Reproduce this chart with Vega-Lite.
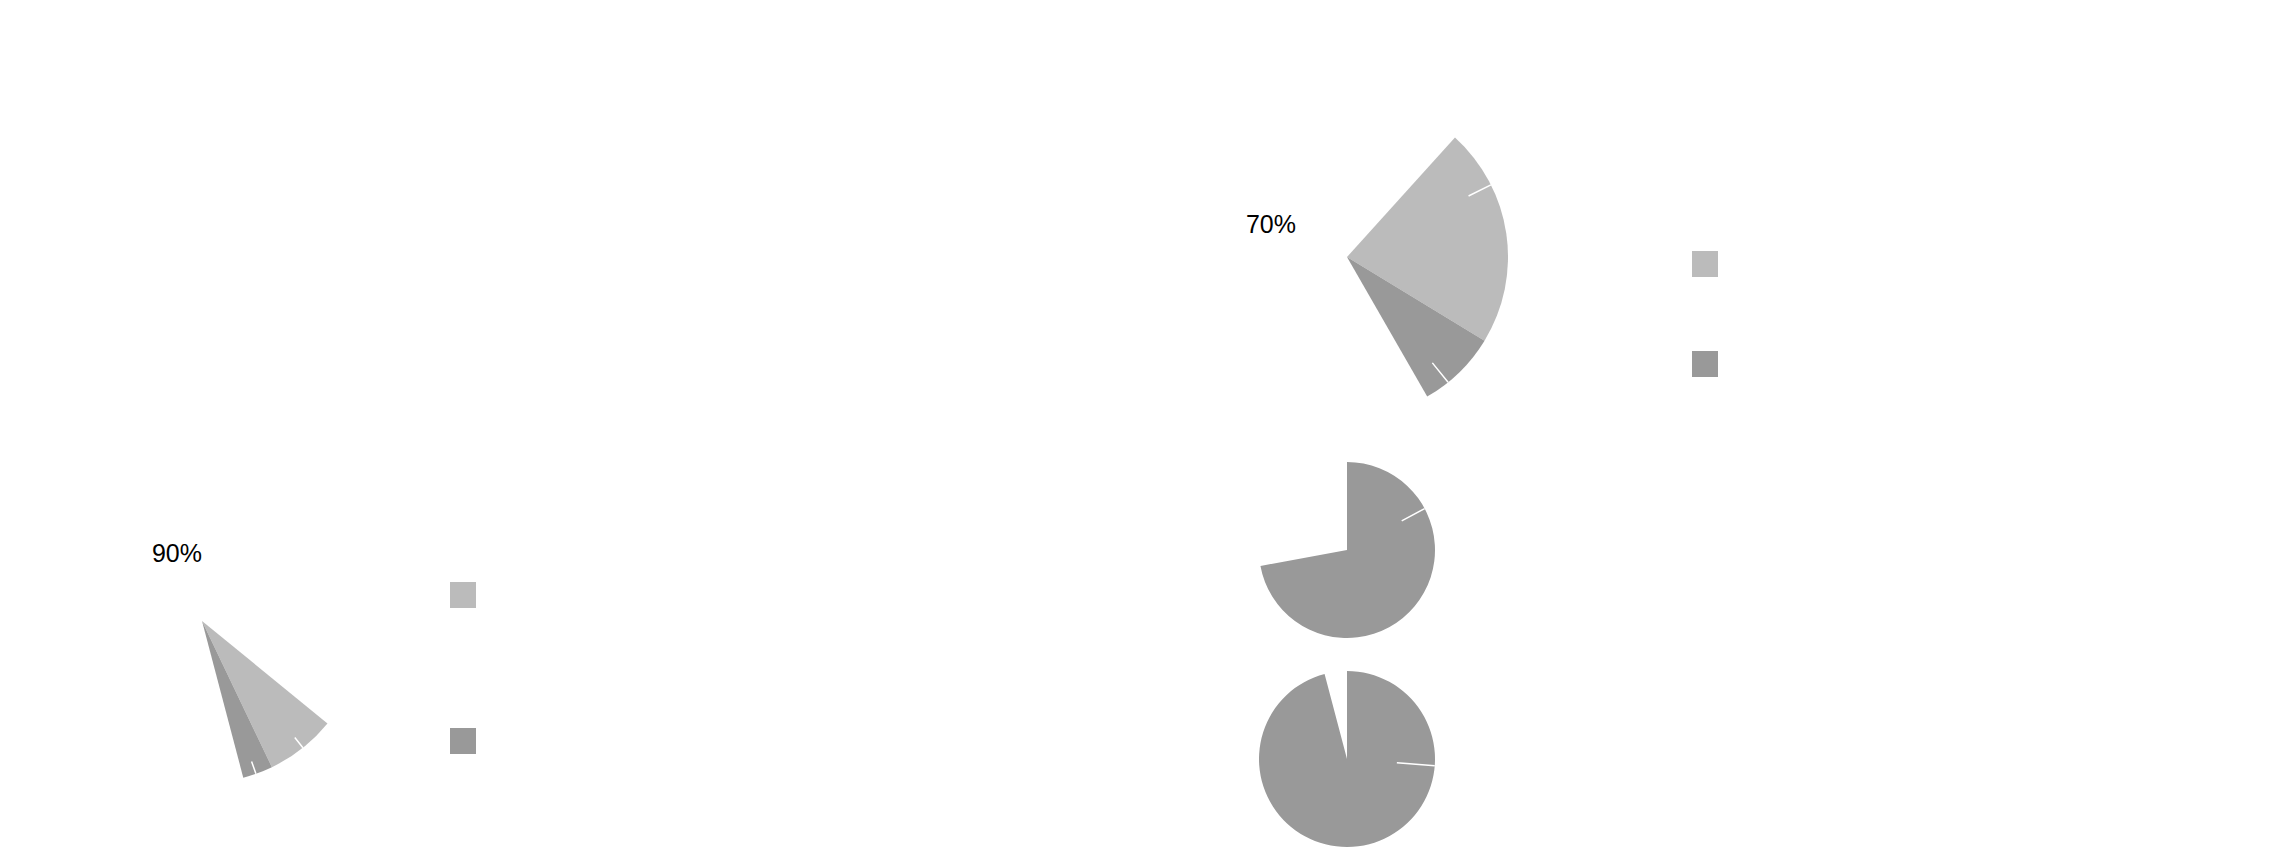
{
  "$schema": "https://vega.github.io/schema/vega-lite/v6.json",
  "padding": 0,
  "background": "white",
  "columns": 2,
  "spacing": {"row": 0, "column": 892},
  "align": "each",
  "bounds": "flush",
  "concat": [
    {"width": 404, "height": 243, "data": {"values": []}, "mark": "point"},
    {"width": 102, "height": 1, "data": {"values": []}, "mark": "point"},
    {"width": 1, "height": 286, "data": {"values": []}, "mark": "point"},
    {
      "width": 102, "height": 28,
      "title": {"text": "70%", "anchor": "start", "align": "right", "frame": "group", "offset": -100},
      "layer": [
        {
          "data": {"values": [
            {"part": "Segment 1", "from": 11.7, "to": 33.7},
            {"part": "Segment 2", "from": 33.7, "to": 41.7}
          ]},
          "mark": {"type": "arc", "outerRadius": 161},
          "encoding": {
            "theta": {"field": "from", "type": "quantitative", "stack": null, "scale": {"domain": [0, 100]}},
            "theta2": {"field": "to"},
            "color": {
              "field": "part", "type": "nominal",
              "scale": {"domain": ["Segment 1", "Segment 2"], "range": ["#bbbbbb", "#999999"]},
              "legend": {"orient": "none", "legendX": 396, "legendY": 8, "title": null, "padding": 0,
                "symbolType": "square", "symbolSize": 676, "symbolStrokeWidth": 0, "symbolOpacity": 1,
                "labelExpr": "''", "rowPadding": 74}
            }
          }
        },
        {
          "data": {"values": [{"at": 17.6}, {"at": 39.2}]},
          "mark": {"type": "arc", "outerRadius": 161, "innerRadius": 136, "fill": null, "stroke": "white", "strokeWidth": 1.5},
          "encoding": {
            "theta": {"field": "at", "type": "quantitative", "stack": null, "scale": {"domain": [0, 100]}},
            "theta2": {"field": "at"}
          }
        }
      ]
    },
    {"width": 1, "height": 1, "data": {"values": []}, "mark": "point"},
    {
      "width": 102, "height": 42,
      "layer": [
        {
          "data": {"values": [{"value": 72.1}]},
          "mark": {"type": "arc", "outerRadius": 88, "color": "#999999"},
          "encoding": {"theta": {"field": "value", "type": "quantitative", "scale": {"domain": [0, 100]}}}
        },
        {
          "data": {"values": [{"at": 17.2}]},
          "mark": {"type": "arc", "outerRadius": 88, "innerRadius": 62, "fill": null, "stroke": "white", "strokeWidth": 1.5},
          "encoding": {
            "theta": {"field": "at", "type": "quantitative", "stack": null, "scale": {"domain": [0, 100]}},
            "theta2": {"field": "at"}
          }
        }
      ]
    },
    {
      "width": 404, "height": 100,
      "title": {"text": "90%", "anchor": "middle", "align": "right", "frame": "group"},
      "layer": [
        {
          "data": {"values": [
            {"part": "Segment 1", "from": 35.9, "to": 42.9},
            {"part": "Segment 2", "from": 42.9, "to": 45.9}
          ]},
          "mark": {"type": "arc", "outerRadius": 162},
          "encoding": {
            "theta": {"field": "from", "type": "quantitative", "stack": null, "scale": {"domain": [0, 100]}},
            "theta2": {"field": "to"},
            "color": {
              "field": "part", "type": "nominal",
              "scale": {"domain": ["Segment 1", "Segment 2"], "range": ["#bbbbbb", "#999999"]},
              "legend": {"orient": "none", "legendX": 450, "legendY": 11, "title": null, "padding": 0,
                "symbolType": "square", "symbolSize": 676, "symbolStrokeWidth": 0, "symbolOpacity": 1,
                "labelExpr": "''", "rowPadding": 120}
            }
          }
        },
        {
          "data": {"values": [{"at": 39.3}, {"at": 44.6}]},
          "mark": {"type": "arc", "outerRadius": 162, "innerRadius": 149, "fill": null, "stroke": "white", "strokeWidth": 1.5},
          "encoding": {
            "theta": {"field": "at", "type": "quantitative", "stack": null, "scale": {"domain": [0, 100]}},
            "theta2": {"field": "at"}
          }
        }
      ]
    },
    {"width": 102, "height": 1, "data": {"values": []}, "mark": "point"},
    {"width": 1, "height": 1, "data": {"values": []}, "mark": "point"},
    {
      "width": 102, "height": 176,
      "layer": [
        {
          "data": {"values": [{"value": 95.9}]},
          "mark": {"type": "arc", "outerRadius": 88, "color": "#999999"},
          "encoding": {"theta": {"field": "value", "type": "quantitative", "scale": {"domain": [0, 100]}}}
        },
        {
          "data": {"values": [{"at": 26.2}]},
          "mark": {"type": "arc", "outerRadius": 88, "innerRadius": 50, "fill": null, "stroke": "white", "strokeWidth": 1.5},
          "encoding": {
            "theta": {"field": "at", "type": "quantitative", "stack": null, "scale": {"domain": [0, 100]}},
            "theta2": {"field": "at"}
          }
        }
      ]
    }
  ],
  "resolve": {"scale": {"color": "independent", "theta": "independent"}},
  "config": {
    "view": {"stroke": null},
    "title": {"font": "Liberation Sans", "fontSize": 25, "fontWeight": "normal", "color": "#000000"}
  }
}
